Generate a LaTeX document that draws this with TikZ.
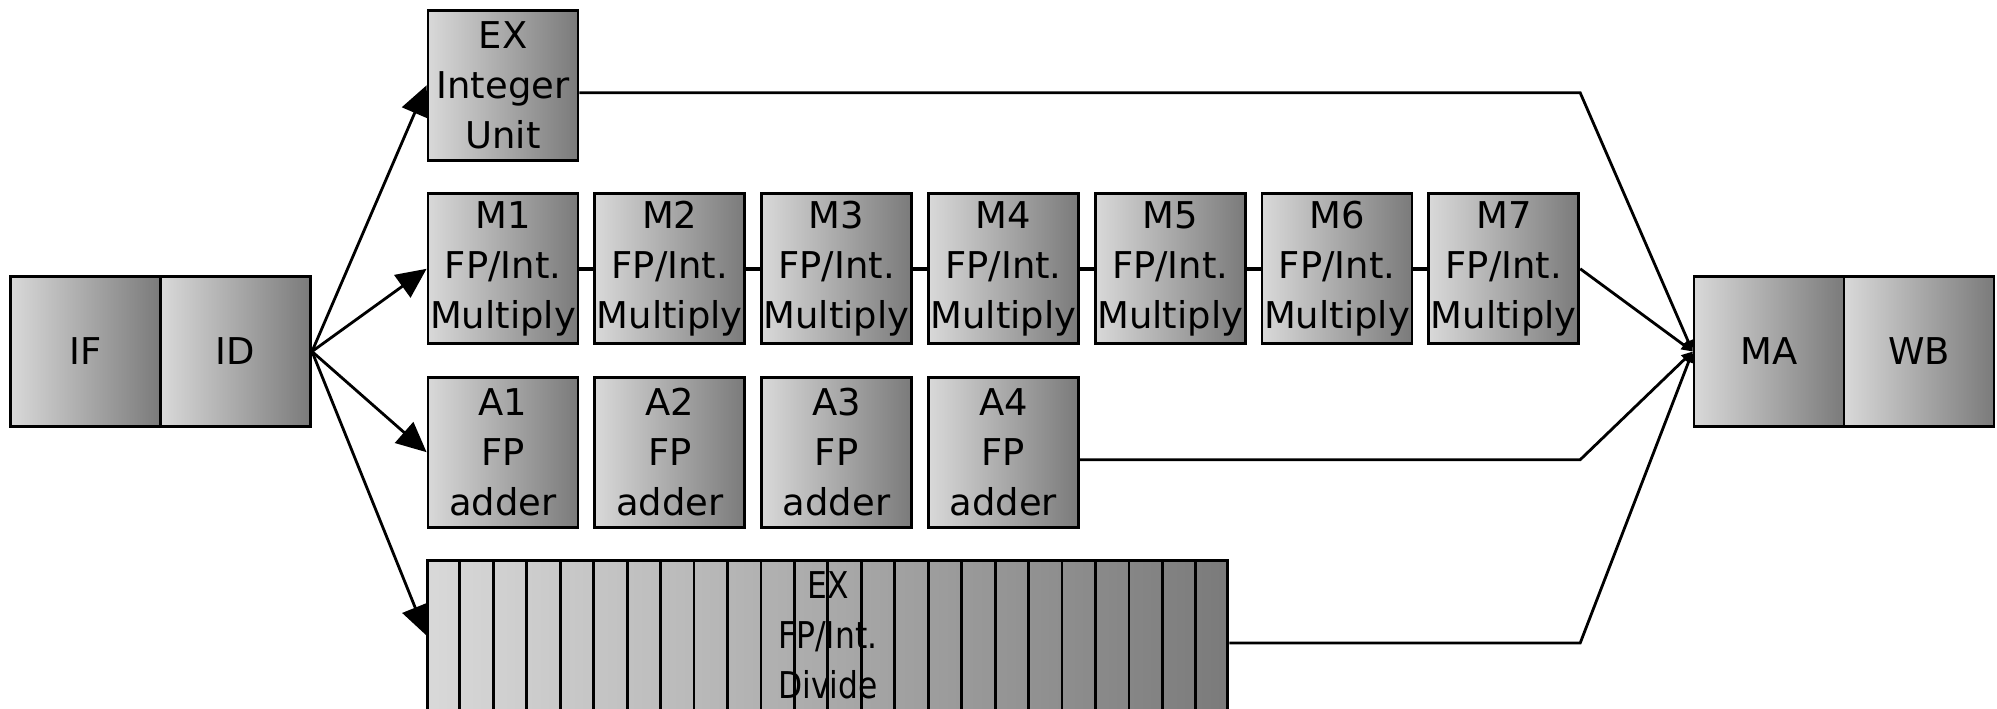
\documentclass[tikz,border=0pt]{standalone}
\usepackage{fontspec}
\setmainfont{DejaVu Sans}
\newfontfamily\narrowfont[FakeStretch=0.85]{DejaVu Sans}
\usetikzlibrary{arrows.meta,calc}

\begin{document}
\begin{tikzpicture}[
    stage/.style={draw,line width=1.6pt,minimum width=3cm,minimum height=3cm,
      inner sep=0pt,align=center,left color=black!15,right color=black!52,
      font=\fontsize{21}{28.3}\selectfont},
    feed/.style={line width=1.6pt,-{Triangle[length=0.6cm,width=0.55cm]}},
    merge/.style={line width=1.6pt,-{Triangle[length=0.22cm,width=0.2cm]}},
    link/.style={line width=2pt}]
    \useasboundingbox (0,0) rectangle (39.94,-14.18);
    % front end
    \node[stage] (if) at (1.705,-7.03) {IF};
    \node[stage] (id) at (4.712,-7.03) {ID};
    % integer unit
    \node[stage] (int) at (10.06,-1.706) {EX\\Integer\\Unit};
    % multiplier, 7 stages
    \foreach \i in {1,...,7}
      \node[stage] (m\i) at ({10.06+(\i-1)*3.336},-5.376) {M\i\\FP/Int.\\Multiply};
    \foreach \i [count=\j from 2] in {1,...,6}
      \draw[link] (m\i.east) -- (m\j.west);
    % adder, 4 stages
    \foreach \i in {1,...,4}
      \node[stage] (a\i) at ({10.06+(\i-1)*3.336},-9.044) {A\i\\FP\\adder};
    % divider, not pipelined
    \node[stage,minimum width=16cm,font=\narrowfont\fontsize{21}{28.3}\selectfont] (div) at (16.557,-12.71) {EX\\FP/Int.\\Divide};
    \foreach \i in {1,...,23}
      \draw[line width=1.6pt] ($(div.north west)!{\i/24}!(div.north east)$) -- ($(div.south west)!{\i/24}!(div.south east)$);
    % back end
    \node[stage] (ma) at (35.38,-7.03) {MA};
    \node[stage] (wb) at (38.38,-7.03) {WB};
    % issue
    \foreach \t in {int,m1,a1,div}
      \draw[feed] (id.east) -- (\t.west);
    % results
    \coordinate (intout) at ([yshift=-0.15cm]int.east);
    \coordinate (addout) at ([yshift=-0.15cm]a4.east);
    \coordinate (divout) at ([yshift=-0.15cm]div.east);
    \draw[merge] (intout) -- (intout -| m7.east) -- (ma.west);
    \draw[merge] (m7.east) -- (ma.west);
    \draw[merge] (addout) -- (addout -| m7.east) -- (ma.west);
    \draw[merge] (divout) -- (divout -| m7.east) -- (ma.west);
\end{tikzpicture}
\end{document}
